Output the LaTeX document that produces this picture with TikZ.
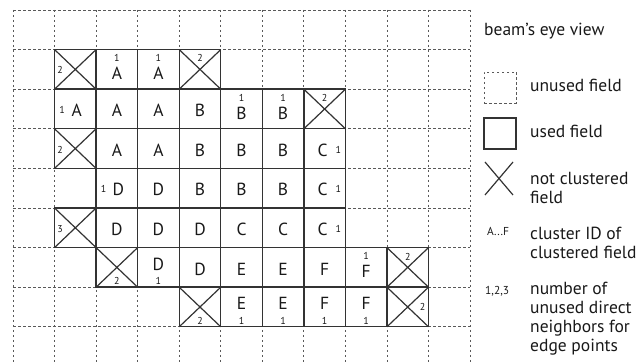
\documentclass[tikz,border=0pt]{standalone}
\usepackage{fontspec}
\setmainfont{PT Sans}

\begin{document}
\begin{tikzpicture}[
  x=1pt, y=-1pt,
  every node/.style={text=black!90},
  gridline/.style={draw=black!65, line width=0.8pt, dash pattern=on 2.5pt off 2.5pt},
  field/.style={rectangle, draw=black!80, line width=1.4pt, fill=white,
                minimum width=41.55pt, minimum height=39.6pt, inner sep=0pt, outer sep=0pt},
  crossline/.style={draw=black!80, line width=1.2pt},
  fieldid/.style={font=\fontsize{17.5}{17.5}\selectfont, inner sep=0pt},
  count/.style={font=\fontsize{10}{10}\selectfont, inner sep=0pt},
  keytext/.style={font=\fontsize{17.5}{19}\selectfont, align=left, inner sep=0pt, anchor=base west}
]
  \useasboundingbox (0,0) rectangle (641,363);

  % unused fields
  \foreach \i in {0,...,11}
    \draw[gridline] ({13+41.55*\i},10) -- ({13+41.55*\i},363);
  \foreach \j in {0,...,8}
    \draw[gridline] (13,{10+39.6*\j}) -- (470,{10+39.6*\j});

  % used fields, row by row
  \foreach \r/\a/\b in {1/1/4, 2/1/7, 3/1/7, 4/2/7, 5/1/7, 6/2/9, 7/4/9}
    \foreach \c in {\a,...,\b}
      \node[field] (f-\c-\r) at ({33.775+41.55*\c},{29.8+39.6*\r}) {};

  % not clustered
  \foreach \c/\r in {1/1, 4/1, 7/2, 1/3, 1/5, 2/6, 9/6, 4/7, 9/7}
    \draw[crossline] (f-\c-\r.north west) -- (f-\c-\r.south east)
                     (f-\c-\r.north east) -- (f-\c-\r.south west);

  % cluster IDs
  \foreach \c/\r/\t/\dx/\dy in {2/1/A/0/4, 3/1/A/0/4,
      1/2/A/1.5/1.5, 2/2/A/0/1.5, 3/2/A/0/1.5, 4/2/B/0/1.5, 5/2/B/0/4, 6/2/B/0/4,
      2/3/A/0/1.5, 3/3/A/0/1.5, 4/3/B/0/1.5, 5/3/B/0/1.5, 6/3/B/0/1.5, 7/3/C/-2/1.5,
      2/4/D/1.5/1.5, 3/4/D/0/1.5, 4/4/B/0/1.5, 5/4/B/0/1.5, 6/4/B/0/1.5, 7/4/C/-2/1.5,
      2/5/D/0/1.5, 3/5/D/0/1.5, 4/5/D/0/1.5, 5/5/C/0/1.5, 6/5/C/0/1.5, 7/5/C/-2/1.5,
      3/6/D/0/-3.5, 4/6/D/0/1.5, 5/6/E/0/1.5, 6/6/E/0/1.5, 7/6/F/0/1.5, 8/6/F/0/4,
      5/7/E/0/-3.5, 6/7/E/0/-3.5, 7/7/F/0/-3.5, 8/7/F/0/-3.5}
    \node[fieldid] (id-\c-\r) at ([shift={(\dx,\dy)}]f-\c-\r.center) {\t};

  % unused direct neighbours
  \foreach \c/\r/\p/\dx/\dy/\n in {2/1/north/0/8.5/1, 3/1/north/0/8.5/1,
      1/1/west/5.5/1/2, 4/1/north/0/8.5/2,
      1/2/west/7.5/1/1, 5/2/north/0/8.5/1, 6/2/north/0/8.5/1, 7/2/north/0/8.5/2,
      1/3/west/5.5/1/2, 7/3/east/-7/1/1,
      2/4/west/7.5/1/1, 7/4/east/-7/1/1,
      1/5/west/5.5/1/3, 7/5/east/-7/1/1,
      2/6/south/0/-6/2, 3/6/south/0/-6/1, 8/6/north/0/8.5/1, 9/6/north/0/9/2,
      4/7/south/0/-6/2, 5/7/south/0/-6/1, 6/7/south/0/-6/1, 7/7/south/0/-6/1,
      8/7/south/0/-6/1, 9/7/east/-6/0/2}
    \node[count] (n-\c-\r) at ([shift={(\dx,\dy)}]f-\c-\r.\p) {\n};

  % legend
  \node[keytext] (title) at (484,36) {beam’s eye view};
  \node[gridline, minimum width=32pt, minimum height=31pt] (key-unused) at (500,87.5) {};
  \node[field, line width=1.2pt, minimum width=32pt, minimum height=31pt] (key-used) at (500,133.5) {};
  \node[minimum width=28pt, minimum height=33pt, inner sep=0pt, outer sep=0pt] (key-cross) at (499,178.5) {};
  \draw[crossline] (key-cross.north west) -- (key-cross.south east)
                   (key-cross.north east) -- (key-cross.south west);
  \node[count, font=\fontsize{11.5}{11.5}\selectfont, anchor=base west] (key-id) at (487,236) {A...F};
  \node[count, font=\fontsize{11.5}{11.5}\selectfont, anchor=base west] (key-count) at (485,295) {1,2,3};

  \node[keytext] (txt-unused) at (530,92) {unused field};
  \node[keytext] (txt-used) at (530,138) {used field};
  \node[keytext] (txt-cross) at (530,204) {not clustered\\field};
  \node[keytext] (txt-id) at (530,259) {cluster ID of\\clustered field};
  \node[keytext] (txt-count) at (530,352) {number of\\unused direct\\neighbors for\\edge points};
\end{tikzpicture}
\end{document}
